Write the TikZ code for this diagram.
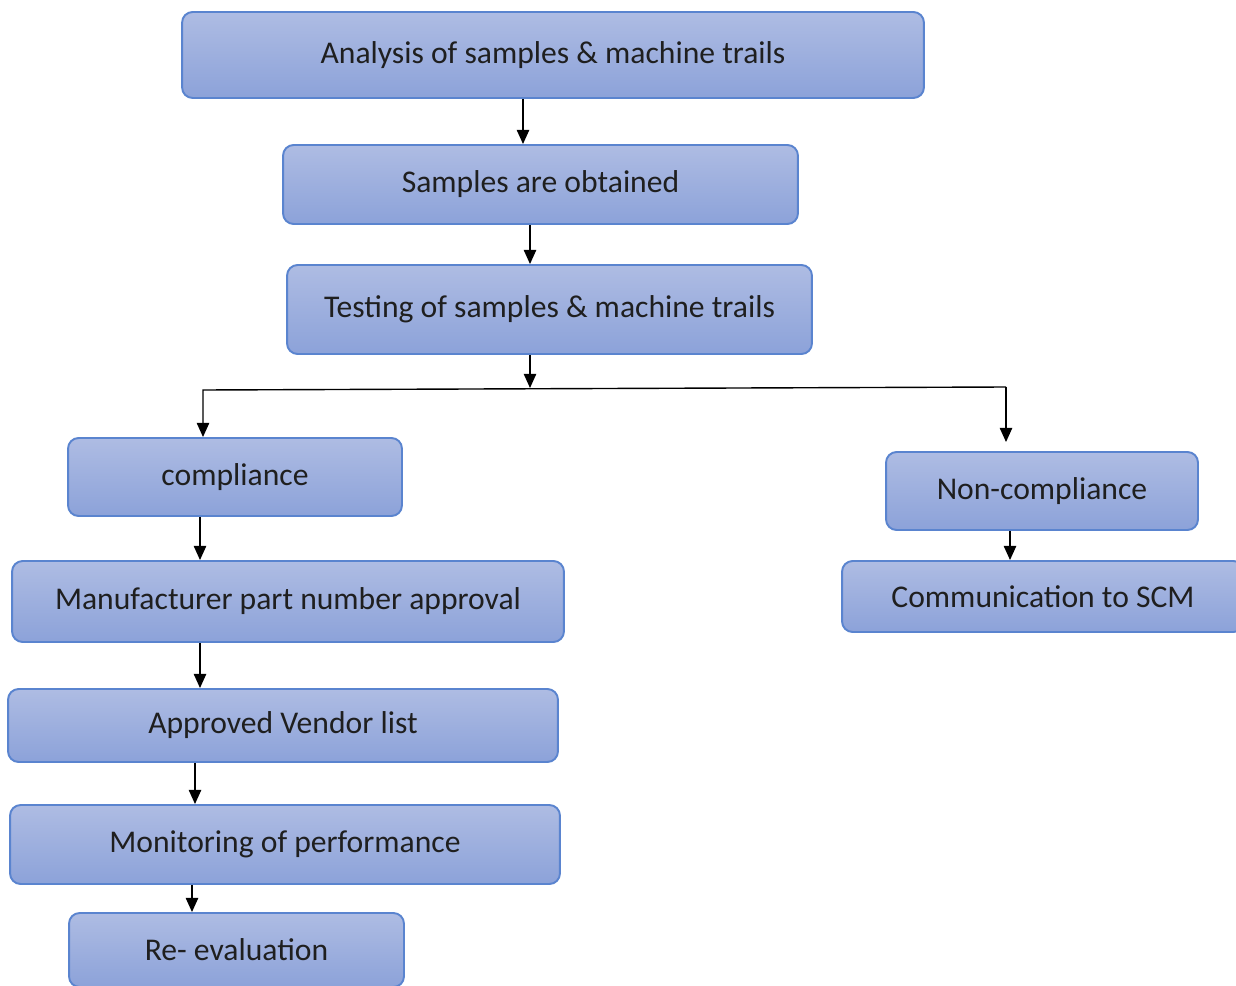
\documentclass[tikz,border=0pt]{standalone}
\usepackage{fontspec}
\setmainfont{Carlito}
\usetikzlibrary{arrows.meta}
\definecolor{boxtop}{HTML}{AEBCE3}
\definecolor{boxbot}{HTML}{8CA2D9}
\definecolor{boxline}{HTML}{5A84CF}

\begin{document}
\begin{tikzpicture}[x=0.02cm,y=-0.02cm,
  box/.style={draw=boxline,line width=1.1pt,rounded corners=6pt,top color=boxtop,bottom color=boxbot,
    font=\fontsize{18}{22}\selectfont,text=black!88},
  arr/.style={-{Triangle[width=7pt,length=8pt]},line width=0.8pt}]
\useasboundingbox (0,0) rectangle (1236,986);
\clip (0,0) rectangle (1236,986);
% boxes
\node[box,minimum width=14.84cm,minimum height=1.72cm] (ana) at (553,55) {Analysis of samples \& machine trails};
\node[box,minimum width=10.3cm,minimum height=1.58cm] (sam) at (540.5,184.5) {Samples are obtained};
\node[box,minimum width=10.5cm,minimum height=1.78cm] (tst) at (549.5,309.5) {Testing of samples \& machine trails};
\node[box,minimum width=6.68cm,minimum height=1.56cm] (cmp) at (235,477) {compliance};
\node[box,minimum width=6.24cm,minimum height=1.56cm] (ncp) at (1042,491) {Non-compliance};
\node[box,minimum width=8.04cm,minimum height=1.42cm] (com) at (1043,596.5) {Communication to SCM};
\node[box,minimum width=11.04cm,minimum height=1.62cm] (mpn) at (288,601.5) {Manufacturer part number approval};
\node[box,minimum width=11cm,minimum height=1.46cm] (avl) at (283,725.5) {Approved Vendor list};
\node[box,minimum width=11cm,minimum height=1.58cm] (mon) at (285,844.5) {Monitoring of performance};
\node[box,minimum width=6.7cm,minimum height=1.48cm] (rev) at (236.5,950) {Re- evaluation};
% branch points
\coordinate (bus) at (530,388);
\coordinate (bl) at (203,390);
\coordinate (br) at (1006,387);
% arrows
\draw[arr] (ana.south -| 523,0) -- (sam.north -| 523,0);
\draw[arr] (sam.south -| 530,0) -- (tst.north -| 530,0);
\draw[arr] (tst.south -| bus) -- (bus);
\draw[arr] (br) -- (bl) -- (cmp.north -| bl);
\draw[arr,shorten >=0.18cm] (br) -- (ncp.north -| br);
\draw[arr] (cmp.south -| 200,0) -- (mpn.north -| 200,0);
\draw[arr] (ncp.south -| 1010,0) -- (com.north -| 1010,0);
\draw[arr] (mpn.south -| 200,0) -- (avl.north -| 200,0);
\draw[arr] (avl.south -| 195,0) -- (mon.north -| 195,0);
\draw[arr] (mon.south -| 192,0) -- (rev.north -| 192,0);
\end{tikzpicture}
\end{document}
